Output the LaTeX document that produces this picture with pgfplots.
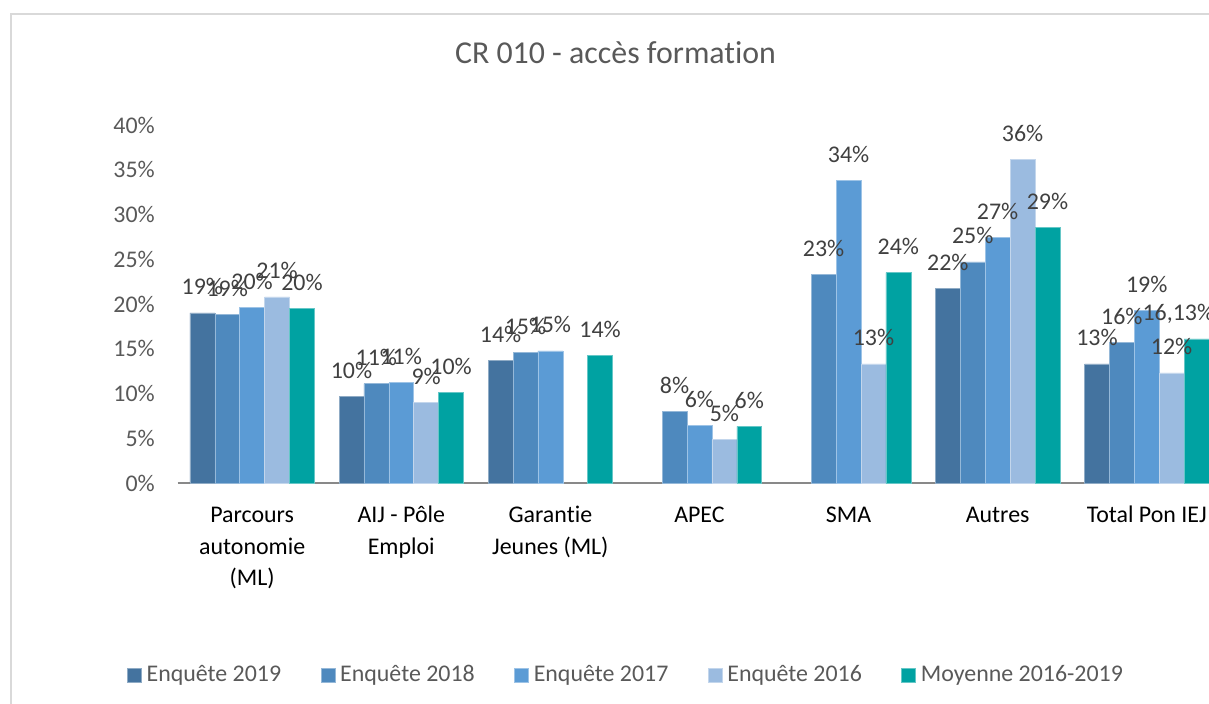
\documentclass[border=0pt]{standalone}
\usepackage{pgfplots}
\pgfplotsset{compat=1.18}
\usepackage{fontspec}
\setmainfont[Ligatures={NoCommon}]{Carlito}
\definecolor{c19}{HTML}{44739F}
\definecolor{c18}{HTML}{4E89BE}
\definecolor{c17}{HTML}{5B9BD5}
\definecolor{c16}{HTML}{9BBBE0}
\definecolor{cmoy}{HTML}{00A2A2}
\definecolor{tickgray}{HTML}{595959}
\definecolor{labgray}{HTML}{404040}
\definecolor{axisgray}{HTML}{898989}
\definecolor{framegray}{HTML}{D9D9D9}
\pgfplotsset{
  sq/.style={legend image code/.code={\fill[##1] (0bp,-8bp) rectangle (14bp,6bp);}},
}
\begin{document}
\begin{tikzpicture}
\path[use as bounding box] (0bp,0bp) rectangle (1209bp,-704bp);
\draw[color=framegray, line width=1.8bp] (11bp,-720bp) -- (11bp,-14bp) -- (1240bp,-14bp);
\node[anchor=base, font=\fontsize{32}{36}\selectfont, text=tickgray, inner sep=0pt] at (615.5bp,-63bp) {CR 010 - accès formation};
\begin{axis}[
  at={(177.6bp,-483bp)}, anchor=south west,
  scale only axis, width=1043.7bp, height=358bp,
  xmin=-0.5, xmax=6.5, ymin=0, ymax=40,
  clip=false,
  ybar=0pt, bar width=24.9bp,
  axis x line*=bottom, axis y line*=left,
  y axis line style={draw=none},
  x axis line style={draw=axisgray, line width=1.5bp},
  major tick length=0pt,
  xtick={0,...,6},
  xticklabels={{\strut Parcours\\autonomie\\(ML)},{\strut AIJ - Pôle\\Emploi},{\strut Garantie\\Jeunes (ML)},{\strut APEC},{\strut SMA},{\strut Autres},{\strut Total Pon IEJ}},
  xticklabel style={align=center, font=\fontsize{24}{32}\selectfont, text=black, anchor=north, inner sep=0pt, yshift=-16.6bp},
  ytick={0,5,...,40},
  yticklabels={0\%,5\%,10\%,15\%,20\%,25\%,30\%,35\%,40\%},
  yticklabel style={font=\fontsize{24}{28}\selectfont, text=tickgray, anchor=east, inner sep=0pt, xshift=-22.6bp},
  point meta=explicit symbolic,
  nodes near coords,
  every node near coord/.append style={anchor=base, yshift=18bp, inner sep=0pt, font=\fontsize{24}{28}\selectfont, text=labgray},
  legend columns=5,
  legend cell align=left,
  legend style={draw=none, fill=none, at={(-0.0485,-0.504)}, anchor=north west,
    font=\fontsize{24}{28}\selectfont, text=tickgray, inner sep=0pt, outer sep=0pt,
    /tikz/every odd column/.append style={column sep=3bp}},
]
\addplot[sq, fill=c19, draw=c19!60!white, line width=0.6bp] coordinates {
 (0,19.0) [19\%] (1,9.7) [10\%] (2,13.7) [14\%] (5,21.75) [22\%] (6,13.3) [13\%] };
\addlegendentry{\makebox[172bp][l]{Enquête 2019}}
\addplot[sq, fill=c18, draw=c18!60!white, line width=0.6bp] coordinates {
 (0,18.85) [19\%] (1,11.1) [11\%] (2,14.6) [15\%] (3,8.0) [8\%] (4,23.3) [23\%] (5,24.7) [25\%] (6,15.7) [16\%] };
\addlegendentry{\makebox[172bp][l]{Enquête 2018}}
\addplot[sq, fill=c17, draw=c17!60!white, line width=0.6bp] coordinates {
 (0,19.6) [20\%] (1,11.2) [11\%] (2,14.75) [15\%] (3,6.4) [6\%] (4,33.8) [34\%] (5,27.4) [27\%] (6,19.25) [19\%] };
\addlegendentry{\makebox[172bp][l]{Enquête 2017}}
\addplot[sq, fill=c16, draw=c16!60!white, line width=0.6bp] coordinates {
 (0,20.8) [21\%] (1,9.05) [9\%] (3,4.84) [5\%] (4,13.3) [13\%] (5,36.2) [36\%] (6,12.3) [12\%] };
\addlegendentry{\makebox[172bp][l]{Enquête 2016}}
\addplot[sq, fill=cmoy, draw=cmoy!60!white, line width=0.6bp] coordinates {
 (0,19.5) [20\%] (1,10.1) [10\%] (2,14.3) [14\%] (3,6.33) [6\%] (4,23.5) [24\%] (5,28.6) [29\%] (6,16.1) [{\rlap{\hspace{-54bp}16,13\%}}] };
\addlegendentry{Moyenne 2016-2019}
\end{axis}
\end{tikzpicture}
\end{document}
